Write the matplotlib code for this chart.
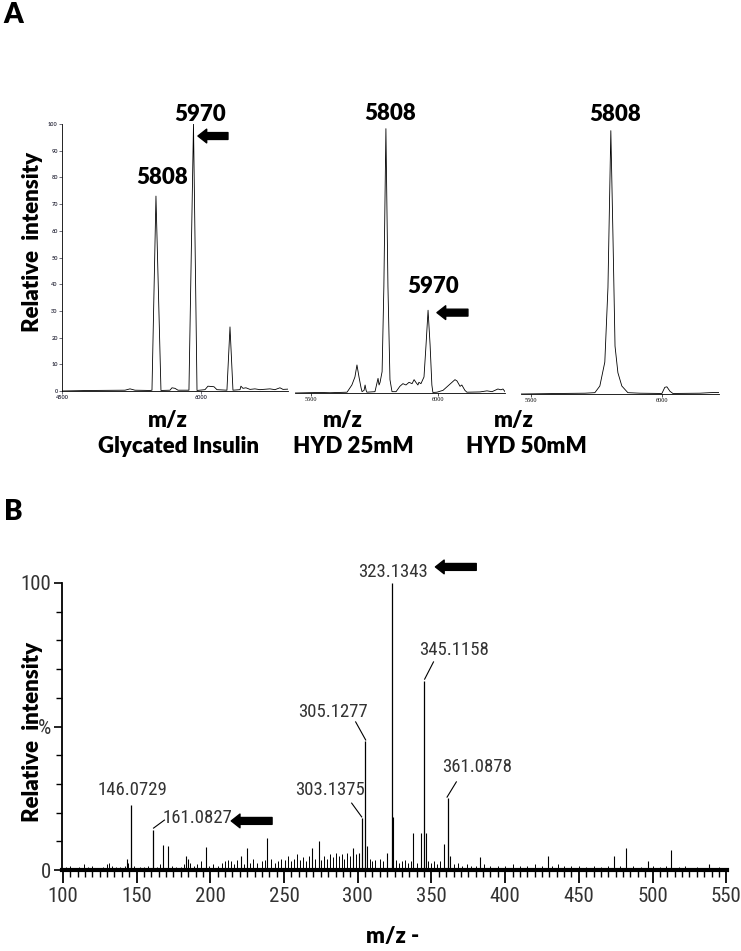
import matplotlib
matplotlib.use("Agg")
import matplotlib.pyplot as plt
from matplotlib import font_manager
from matplotlib.ticker import MultipleLocator, FixedLocator

W, H = 741, 951

# ---- panel A traces (m/z, relative intensity) ----
gly_mz = [4500, 4802, 5180, 5234, 5288, 5450, 5471, 5514, 5568, 5665, 5687, 5719, 5752,
          5870, 5919, 5957, 6043, 6075, 6140, 6172, 6280, 6313, 6345, 6421, 6431, 6453,
          6485, 6529, 6582, 6636, 6744, 6798, 6852, 6885, 6939]
gly_int = [0, 0.2, 0.3, 0.8, 0.3, 0.2, 0.3, 73, 0.2, 0.3, 1.2, 1.0, 0.3,
           0.3, 100, 0.2, 0.5, 1.8, 1.6, 0.5, 0.3, 24, 0.3, 0.5, 1.8, 1.0,
           1.2, 0.6, 0.8, 0.5, 0.8, 0.5, 1.2, 0.6, 0.7]

hyd25_mz = [5437, 5535, 5575, 5642, 5661, 5673, 5681, 5689, 5697, 5701, 5709, 5713, 5717,
            5720, 5752, 5764, 5768, 5772, 5780, 5787, 5795, 5803, 5811, 5819, 5835, 5850,
            5862, 5874, 5886, 5898, 5906, 5913, 5921, 5925, 5933, 5945, 5953, 5961, 5969,
            5976, 5980, 5996, 6020, 6067, 6075, 6087, 6094, 6106, 6114, 6165, 6193, 6213,
            6236, 6248, 6256, 6264]
hyd25_int = [0, 0.2, 0.1, 0.3, 3, 6, 10.5, 6, 2, 0.5, 1, 3, 1,
             0.3, 0.5, 5.5, 3, 4, 8, 40, 99, 40, 5, 0.5, 0.5, 2.5,
             3.5, 3, 4, 3.5, 5, 4, 3, 4, 3.5, 6, 18, 31, 18,
             3, 0.2, 0.3, 1, 5, 4.5, 2.5, 3, 1, 0.3, 0.4, 0.8, 0.5,
             1.5, 1.2, 1.5, 0.5]

hyd50_mz = [5462, 5611, 5706, 5744, 5763, 5782, 5794, 5805, 5813, 5821, 5832, 5847, 5870,
            5916, 6000, 6011, 6019, 6031, 6042, 6145, 6183, 6218]
hyd50_int = [0, 0.2, 0.3, 0.5, 3, 12, 40, 99, 60, 18, 8, 3, 0.5,
             0.3, 0.2, 2.5, 2.7, 1, 0.2, 0.3, 0.5, 0.6]

# ---- panel B stick spectrum ----
lab_mz = [146.0729, 161.0827, 303.1375, 305.1277, 323.1343, 345.1158, 361.0878]
lab_int = [22.6, 14, 18, 45, 100, 66, 25]

sec_mz = [143.7, 168.2, 171.5, 183.5, 185.0, 197.0, 221.0, 225.0, 238.6, 269.0, 273.6,
          297.0, 301.0, 306.4, 320.0, 324.0, 337.8, 342.6, 346.1, 358.8, 362.3, 383.0,
          429.0, 473.6, 481.7, 496.6, 512.8, 538.0]
sec_int = [4, 8.7, 8.5, 5, 4, 8, 5, 7.7, 11, 7.7, 10,
           7.7, 6, 8.5, 6, 18.5, 13, 13, 13, 9, 5, 4.5,
           5, 5, 7.7, 3, 7, 2]

noise_mz = [102, 105, 108, 111, 114, 117, 120, 124, 127, 130, 131, 133, 136, 139, 142, 144,
            148, 152, 155, 158, 164, 166, 174, 177, 180, 182, 186, 189, 191, 194, 199, 202,
            205, 208, 210, 212, 214, 216, 218, 223, 227, 229, 232, 235, 237, 241, 244, 246,
            248, 251, 253, 255, 257, 259, 261, 263, 265, 267, 271, 275, 277, 279, 281, 283,
            285, 287, 289, 291, 293, 295, 299, 308, 310, 312, 315, 317, 326, 328, 330, 332,
            334, 336, 340, 348, 350, 352, 354, 356, 365, 368, 371, 374, 377, 380, 386, 390,
            395, 400, 405, 410, 415, 420, 425, 432, 436, 440, 445, 450, 455, 460, 465, 470,
            478, 487, 492, 500, 505, 509, 518, 522, 530, 545]
noise_int = [1, 1.5, 0.8, 1.2, 2, 1, 1.5, 0.8, 1, 2, 2.5, 1.5, 1, 1.2, 1.5, 2.5,
             1.5, 1, 1.2, 1.5, 1, 2, 1.5, 1, 1.2, 2, 2.5, 1.5, 2, 3, 1.5, 2,
             1.5, 2.5, 3, 3.5, 3, 2, 3.5, 2, 2.5, 4, 2.5, 3, 3.5, 4, 2.5, 3,
             4, 3.5, 5, 3, 4, 5.5, 3.5, 4.5, 3, 5, 4, 3.5, 5, 4, 5.5, 4.5,
             6, 5, 5.5, 4, 6, 5, 5.5, 4, 3, 3.5, 4, 3, 3.5, 2.5, 3, 3.5,
             2.5, 3, 2.5, 3, 2.5, 3, 2, 3, 2, 2.5, 1.5, 2, 1.5, 1.5, 2, 1.5,
             1.5, 1.5, 2, 1.5, 1.5, 2, 1.5, 1.5, 2, 1.5, 1.5, 1.5, 1, 1.5, 1, 1.5,
             1.5, 1.5, 1, 1.5, 1, 1.5, 1, 1.5, 1, 1]

# pick a narrow sans for the instrument-style labels, if one is installed
names = {f.name for f in font_manager.fontManager.ttflist}
narrow, nstretch = 'Liberation Sans', 'normal'
for cand in ['Liberation Sans Narrow', 'Arial Narrow', 'Noto Sans Condensed',
             'Noto Sans SemiCondensed', 'DejaVu Sans Condensed', 'Roboto Condensed']:
    if cand in names:
        narrow = cand
        break
else:
    conds = [f for f in font_manager.fontManager.ttflist
             if f.stretch in ('condensed', 'semi-condensed', 'extra-condensed')
             and 'Mono' not in f.name and 'Serif' not in f.name and 'CJK' not in f.name]
    if conds:
        narrow, nstretch = conds[0].name, conds[0].stretch

bold_font = 'Lato' if 'Lato' in names else 'DejaVu Sans'
plt.rcParams['font.family'] = [bold_font, 'DejaVu Sans']


def rect(l, t, r, b):
    return [l / W, 1 - b / H, (r - l) / W, (b - t) / H]


def fp(x, y):
    return (x / W, 1 - y / H)


fig = plt.figure(figsize=(W / 100, H / 100), dpi=100)
fig.patch.set_facecolor('white')

big = dict(fontsize=16, fontweight='heavy', color='black')
arrow = dict(arrowstyle='simple,head_length=0.7,head_width=1.1,tail_width=0.55',
             color='black', shrinkA=0, shrinkB=0, mutation_scale=9)

# ---- panel A ----
ax1 = fig.add_axes(rect(62, 124, 288, 391))
ax1.plot(gly_mz, gly_int, color='black', lw=0.6)
ax1.set_xlim(4500, 6939)
ax1.set_ylim(0, 100)
ax1.set_xticks([4500, 6000])
ax1.set_yticks(range(0, 101, 10))
ax1.tick_params(labelsize=4, length=2, width=0.5, pad=1, colors='#333344')
for lbl in ax1.get_xticklabels() + ax1.get_yticklabels():
    lbl.set_fontweight('bold')

ax2 = fig.add_axes(rect(295, 126, 505, 393))
ax2.plot(hyd25_mz, hyd25_int, color='black', lw=0.6)
ax2.set_xlim(5437, 6264)
ax2.set_ylim(0, 100)
ax2.set_xticks([5500, 6000])
ax2.set_yticks([])

ax3 = fig.add_axes(rect(521, 128, 719, 394))
ax3.plot(hyd50_mz, hyd50_int, color='black', lw=0.6)
ax3.set_xlim(5462, 6218)
ax3.set_ylim(0, 100)
ax3.set_xticks([5500, 6000])
ax3.set_yticks([])

for ax in (ax1, ax2, ax3):
    ax.spines['top'].set_visible(False)
    ax.spines['right'].set_visible(False)
    ax.spines['bottom'].set_linewidth(0.6)
    ax.spines['left'].set_linewidth(0.6)
for ax in (ax2, ax3):
    ax.spines['left'].set_visible(False)
    ax.tick_params(axis='x', labelsize=4.5, length=2, width=0.5, pad=1)
    for lbl in ax.get_xticklabels():
        lbl.set_family('Liberation Serif')

ax1.text(5989, 103.4, '5970', ha='center', va='center', clip_on=False, **big)
ax1.text(5579, 80.1, '5808', ha='center', va='center', clip_on=False, **big)
ax1.annotate('', xy=(5967, 95.5), xytext=(6291, 95.5), arrowprops=arrow, annotation_clip=False)
ax2.text(5811, 104.5, '5808', ha='center', va='center', clip_on=False, **big)
ax2.text(5980, 39.8, '5970', ha='center', va='center', clip_on=False, **big)
ax2.annotate('', xy=(5996, 30.1), xytext=(6118, 30.1), arrowprops=arrow, annotation_clip=False)
ax3.text(5821, 104.9, '5808', ha='center', va='center', clip_on=False, **big)

fig.text(*fp(13, 15), 'A', ha='center', va='center', fontsize=20, fontweight='heavy')
fig.text(*fp(33, 242), 'Relative  intensity', rotation=90, ha='center', va='center', **big)
for mx, cx, name in [(168, 178, 'Glycated Insulin'), (343, 353, 'HYD 25mM'),
                     (514, 526, 'HYD 50mM')]:
    fig.text(*fp(mx, 421), 'm/z', ha='center', va='center', **big)
    fig.text(*fp(cx, 447), name, ha='center', va='center', **big)

# ---- panel B ----
axb = fig.add_axes(rect(62, 583, 727, 870))
axb.vlines(noise_mz, 0, noise_int, color='black', lw=0.7)
axb.vlines(sec_mz, 0, sec_int, color='black', lw=0.8)
axb.vlines(lab_mz, 0, lab_int, color='black', lw=0.9)
axb.set_xlim(99.4, 550.5)
axb.set_ylim(0, 100)
axb.spines['top'].set_visible(False)
axb.spines['right'].set_visible(False)
axb.spines['bottom'].set_linewidth(3)
axb.spines['left'].set_linewidth(1.3)
axb.xaxis.set_major_locator(MultipleLocator(50))
axb.xaxis.set_minor_locator(MultipleLocator(5))
axb.yaxis.set_major_locator(FixedLocator([0, 50, 100]))
axb.yaxis.set_minor_locator(MultipleLocator(10))
axb.set_yticklabels(['0', '%', '100'])
axb.tick_params(axis='x', which='major', length=9, width=1.3, pad=3)
axb.tick_params(axis='x', which='minor', length=5, width=1.0)
axb.tick_params(axis='y', which='major', length=6, width=1.2, pad=2)
axb.tick_params(axis='y', which='minor', length=4, width=1.0)
for lbl in axb.get_xticklabels() + axb.get_yticklabels():
    lbl.set_family(narrow)
    lbl.set_stretch(nstretch)
    lbl.set_fontsize(15)
    lbl.set_color('#333333')

small = dict(fontsize=13.5, color='#333333', family=narrow, stretch=nstretch,
             ha='center', va='center', clip_on=False)
lab_pos = [(147.3, 27.9), (191.2, 18.1), (281.1, 27.9), (283.1, 55.1), (323.6, 103.8),
           (365.5, 76.7), (381.1, 35.9)]
for m, (tx, ty) in zip(lab_mz, lab_pos):
    axb.text(tx, ty, f'{m:.4f}', **small)

# leader lines from labels to peak tops
leaders = [(168.9, 17.4, 161.5, 14.6), (295.9, 23.3, 302.7, 18.5), (298.6, 51.6, 305.4, 45.3),
           (351.4, 72.5, 345.4, 66.5), (366.9, 30.7, 360.6, 25.4)]
for x0, y0, x1, y1 in leaders:
    axb.plot([x0, x1], [y0, y1], color='black', lw=0.8, clip_on=False)

axb.annotate('', xy=(352.7, 105.6), xytext=(380.4, 105.6), arrowprops=arrow, annotation_clip=False)
axb.annotate('', xy=(214.2, 17.1), xytext=(241.9, 17.1), arrowprops=arrow, annotation_clip=False)

fig.text(*fp(13, 512), 'B', ha='center', va='center', fontsize=20, fontweight='heavy')
fig.text(*fp(33, 732), 'Relative  intensity', rotation=90, ha='center', va='center', **big)
fig.text(*fp(393, 937), 'm/z -', ha='center', va='center', **big)

fig.savefig('out.png', dpi=100)
